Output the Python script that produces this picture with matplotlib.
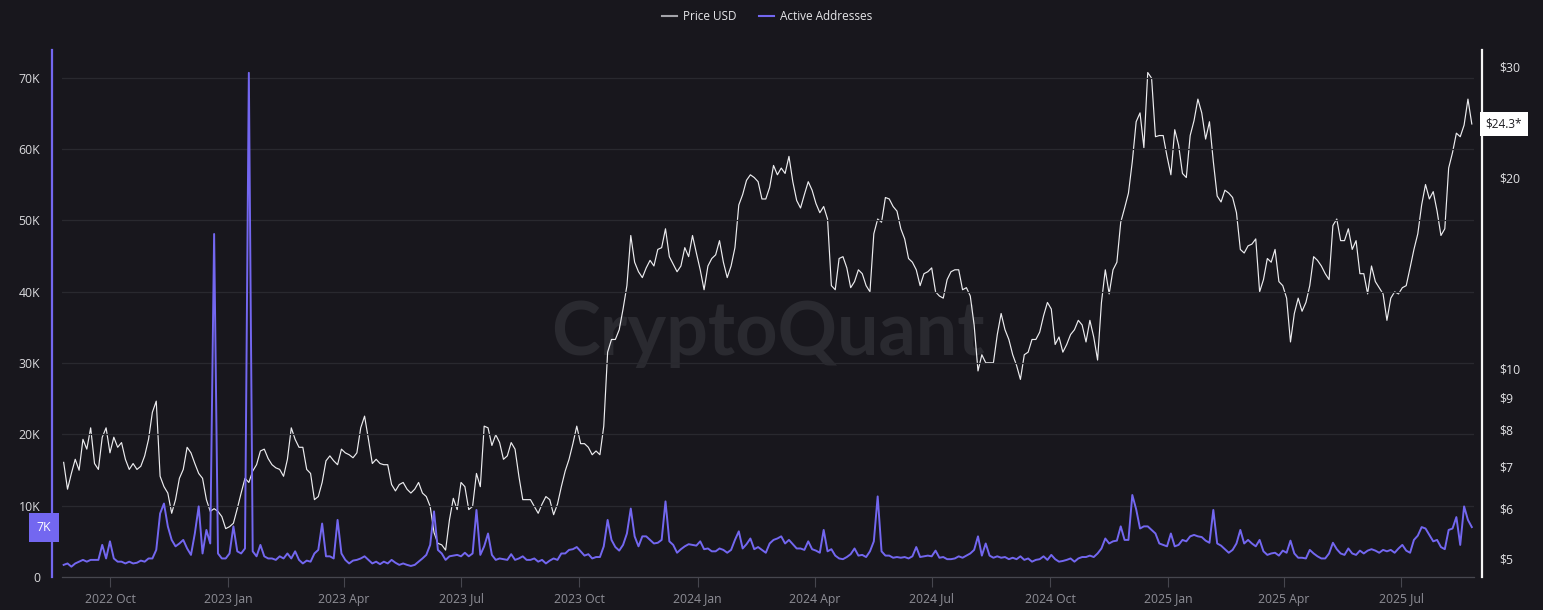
#!/usr/bin/env python3

import matplotlib
matplotlib.use('Agg')
from matplotlib import pyplot as pl
from matplotlib.lines import Line2D
from matplotlib.transforms import blended_transform_factory
import matplotlib.dates as mdates
import matplotlib.ticker as mticker
import pandas as pd

# one reading every 3 days
start = '2022-08-26'
step = '3D'

price_usd = [
    7.10, 6.44, 6.82, 7.18, 6.90, 7.72, 7.45, 8.05, 7.07, 6.92,
    7.78, 8.05, 7.35, 7.78, 7.50, 7.63, 7.18, 6.92, 7.07, 6.92,
    7.00, 7.27, 7.72, 8.52, 8.87, 6.75, 6.50, 6.35, 5.90, 6.20,
    6.70, 6.92, 7.50, 7.35, 7.07, 6.82, 6.70, 6.20, 5.94, 6.00,
    5.94, 5.83, 5.58, 5.62, 5.69, 6.00, 6.35, 6.70, 6.60, 6.88,
    7.04, 7.40, 7.45, 7.20, 7.04, 6.96, 6.92, 6.75, 7.18, 8.05,
    7.72,
    7.50, 7.50, 6.92, 6.82, 6.20, 6.27, 6.60, 7.14, 7.27, 7.14,
    7.04, 7.45, 7.35, 7.30, 7.22, 7.35, 8.05, 8.40, 7.72, 7.07,
    7.18, 7.07, 7.04, 7.04, 6.55, 6.40, 6.55, 6.60, 6.44, 6.35,
    6.44, 6.60, 6.35, 6.27, 6.05, 5.50, 5.29, 5.26, 5.16, 5.76,
    6.23, 5.98, 6.60, 6.50, 5.98, 6.05, 6.82, 6.50, 8.10, 8.05,
    7.55, 7.85, 7.63, 7.18, 7.27, 7.63, 7.45, 6.75, 6.20, 6.20,
    6.20, 6.05,
    5.90, 6.10, 6.27, 6.20, 5.87, 6.10, 6.50, 6.88, 7.18, 7.60,
    8.10, 7.60, 7.60, 7.50, 7.30, 7.40, 7.30, 8.10, 10.6, 11.1,
    11.1, 11.5, 12.4, 13.5, 16.2, 14.7, 14.2, 13.9, 14.4, 14.8,
    14.5, 15.4, 15.5, 16.6, 15.0, 14.6, 14.2, 14.5, 15.5, 15.0,
    16.2, 15.2, 14.3, 13.3, 14.5, 14.9, 15.1, 15.9, 14.7, 13.9,
    14.5, 15.5, 18.1, 18.8, 19.8, 20.2, 20.0, 19.7, 18.5, 18.5,
    19.3, 20.9, 20.2,
    20.7, 20.3, 21.6, 19.7, 18.4, 17.9, 18.8, 19.7, 19.1, 18.2,
    17.6, 18.0, 17.2, 13.5, 13.3, 14.9, 15.0, 14.4, 13.4, 13.7,
    14.3, 14.1, 13.5, 13.2, 16.3, 17.2, 17.0, 18.6, 18.5, 18.0,
    17.7, 16.6, 16.0, 14.9, 14.7, 14.3, 13.5, 14.1, 14.2, 14.4,
    13.2, 13.0, 12.9, 13.8, 14.2, 14.3, 14.3, 13.3, 13.4, 13.0,
    11.7, 9.9, 10.5, 10.2, 10.2, 10.2, 11.3, 12.2, 11.5, 11.1,
    10.5, 10.1, 9.6,
    10.5, 10.6, 11.1, 11.1, 11.4, 12.1, 12.7, 12.4, 10.9, 11.2,
    10.6, 10.9, 11.3, 11.5, 11.9, 11.7, 11.0, 11.9, 11.2, 10.3,
    12.7, 14.3, 13.1, 14.3, 14.7, 17.0, 17.9, 18.9, 21.2, 24.5,
    25.3, 22.3, 29.3, 28.7, 23.2, 23.3, 23.3, 21.6, 20.2, 23.8,
    22.5, 20.3, 20.0, 23.3, 24.6, 26.6, 25.3, 23.0, 24.5, 21.2,
    18.7, 18.3, 19.1, 18.9, 18.6, 17.6, 15.4, 15.2, 15.6, 15.7,
    16.0, 13.2,
    13.8, 14.9, 14.7, 15.4, 13.7, 13.5, 12.9, 11.0, 12.2, 12.9,
    12.3, 12.7, 13.5, 15.0, 14.8, 14.5, 14.1, 13.8, 16.8, 17.2,
    15.9, 15.9, 16.6, 15.4, 15.9, 14.1, 14.1, 13.1, 14.5, 13.7,
    13.4, 13.1, 11.9, 12.9, 13.2, 13.1, 13.4, 13.5, 14.4, 15.4,
    16.3, 18.1, 19.5, 18.5, 19.0, 17.7, 16.2, 16.6, 20.7, 21.9,
    23.5, 23.2, 24.2, 26.6, 24.3,
]

active_addresses_k = [
    1.7, 1.9, 1.45, 1.9, 2.15, 2.4, 2.15, 2.4, 2.4, 2.4,
    4.5, 2.6, 5.0, 2.6, 2.15, 2.15, 1.9, 2.15, 1.9, 2.0,
    2.3, 2.15, 2.6, 2.6, 3.8, 8.9, 10.3, 7.1, 5.2, 4.3,
    4.7, 5.2, 4.0, 3.1, 6.1, 9.9, 3.3, 6.6, 4.7, 48.1,
    3.3, 2.6, 2.6, 3.3, 7.1, 3.6, 3.3, 4.0, 70.7, 3.6,
    2.9, 4.5, 2.9, 2.6, 2.6, 2.4, 2.9, 2.6, 3.3, 2.6,
    3.6,
    2.4, 1.9, 2.3, 2.15, 3.3, 3.8, 7.5, 2.9, 2.9, 2.6,
    8.0, 3.3, 2.4, 1.9, 2.3, 2.4, 2.6, 2.9, 2.4, 1.9,
    2.15, 1.8, 2.15, 1.9, 2.4, 2.0, 1.7, 1.9, 1.7, 1.55,
    1.7, 2.15, 2.6, 3.1, 4.5, 9.2, 3.8, 3.3, 2.4, 2.9,
    3.0, 3.1, 2.9, 3.4, 2.9, 3.3, 9.4, 3.1, 4.3, 6.1,
    3.1, 2.4, 2.6, 2.5, 2.4, 3.2, 2.4, 2.6, 2.9, 2.4,
    2.4, 2.6,
    2.15, 2.4, 1.9, 2.3, 2.6, 2.4, 3.3, 3.3, 3.8, 3.9,
    4.2, 3.6, 3.0, 3.2, 2.6, 2.8, 2.8, 4.3, 8.0, 5.2,
    4.2, 3.7, 4.5, 6.1, 9.6, 5.7, 4.3, 5.7, 5.7, 5.2,
    4.7, 4.8, 5.2, 10.6, 5.0, 4.5, 3.4, 3.9, 4.3, 4.6,
    4.5, 4.4, 5.0, 3.9, 4.0, 3.6, 3.6, 4.0, 3.8, 3.4,
    3.8, 5.2, 6.4, 4.0, 4.6, 5.4, 3.9, 4.2, 3.8, 3.4,
    4.7, 5.2, 5.4,
    5.7, 4.7, 5.2, 4.6, 4.0, 4.0, 3.8, 5.0, 3.9, 3.7,
    3.4, 6.6, 3.6, 3.9, 3.0, 2.6, 2.5, 2.8, 3.2, 4.0,
    3.0, 3.1, 2.8, 3.6, 5.0, 11.3, 3.6, 3.0, 3.0, 2.7,
    2.8, 2.7, 2.8, 2.6, 2.9, 4.2, 2.8, 2.9, 3.0, 2.9,
    3.7, 2.7, 2.8, 2.5, 2.5, 2.6, 2.9, 2.7, 3.0, 3.3,
    3.8, 5.7, 3.0, 4.7, 3.0, 2.7, 2.9, 2.7, 2.8, 2.5,
    2.7, 2.5, 2.9,
    2.4, 2.6, 2.15, 2.4, 2.5, 2.9, 2.4, 3.1, 2.5, 2.15,
    2.25, 2.4, 2.6, 2.15, 2.6, 2.8, 2.8, 3.0, 2.8, 3.3,
    4.0, 5.4, 4.7, 5.0, 5.1, 7.1, 5.2, 5.2, 11.5, 9.5,
    6.8, 7.1, 7.1, 6.6, 6.1, 4.7, 4.5, 4.3, 6.1, 4.3,
    4.5, 5.2, 5.0, 5.7, 5.9, 5.7, 5.6, 5.1, 4.8, 9.4,
    4.7, 4.4, 3.9, 3.4, 3.8, 4.7, 6.6, 4.7, 5.2, 4.7,
    4.3, 5.2,
    3.6, 3.1, 3.3, 3.4, 3.0, 3.7, 3.4, 5.1, 3.3, 2.7,
    2.7, 2.6, 3.8, 3.3, 2.9, 2.6, 2.6, 3.3, 4.8, 3.9,
    3.3, 3.1, 4.0, 3.3, 3.1, 3.7, 3.3, 3.7, 3.9, 3.7,
    3.4, 3.8, 3.6, 3.8, 3.4, 4.0, 4.5, 3.7, 3.4, 5.2,
    5.8, 7.0, 6.8, 5.9, 5.0, 5.2, 4.2, 3.9, 6.6, 6.8,
    8.4, 4.5, 9.9, 8.0, 7.0,
]

aa_ticks = [0, 10000, 20000, 30000, 40000, 50000, 60000, 70000]
aa_tick_labels = ['0', '10K', '20K', '30K', '40K', '50K', '60K', '70K']
price_ticks = [5, 6, 7, 8, 9, 10, 20, 30]
price_tick_labels = ['$5', '$6', '$7', '$8', '$9', '$10', '$20', '$30']
last_aa_label = '7K'
last_price_label = '$24.3*'

bg = '#18171d'
purple = '#7367f0'
white = '#ececef'

pl.rcParams['font.family'] = ['Open Sans', 'DejaVu Sans']

dates_price = pd.date_range(start, periods=len(price_usd), freq=step)
dates_aa = pd.date_range(start, periods=len(active_addresses_k), freq=step)
active_addresses = [v * 1000 for v in active_addresses_k]

W, H = 1543, 610
fig = pl.figure(figsize=(W / 100, H / 100), dpi=100, facecolor=bg)
ax = fig.add_axes([62 / W, 1 - 577 / H, (1474 - 62) / W, (577 - 50) / H])
ax2 = ax.twinx()
ax.set_zorder(ax2.get_zorder() + 1)
ax.patch.set_visible(False)
ax2.patch.set_visible(False)

# watermark behind everything
ax2.text(768 / W, 1 - 355 / H, 'CryptoQuant', transform=fig.transFigure,
         fontsize=53, fontweight='bold', color='#2a2a30', ha='center',
         va='baseline', family=['Lato', 'DejaVu Sans'], zorder=0)

ax2.plot(dates_price, price_usd, color=white, lw=0.85, zorder=2)
ax.plot(dates_aa, active_addresses, color=purple, lw=1.4, zorder=2)

ax.set_xlim(pd.Timestamp('2022-08-24 17:00'), pd.Timestamp('2025-08-26 17:00'))

# left axis: active addresses
ax.set_ylim(0, 73900)
ax.set_yticks(aa_ticks)
ax.set_yticklabels(aa_tick_labels)
ax.yaxis.grid(True, color='#29292f', lw=0.9)
ax.set_axisbelow(True)
ax.tick_params(axis='y', length=0, pad=8.6, labelsize=8.8, labelcolor='#dadadd')

ax.xaxis.set_major_locator(mdates.MonthLocator(bymonth=[1, 4, 7, 10]))
ax.xaxis.set_major_formatter(mdates.DateFormatter('%Y %b'))
ax.tick_params(axis='x', length=7.2, width=0.8, color='#46464e', pad=4,
               labelsize=8.8, labelcolor='#8e8e96')

for side in ['top', 'right']:
    ax.spines[side].set_visible(False)
ax.spines['bottom'].set_color('#46464e')
ax.spines['bottom'].set_linewidth(0.9)
ax.spines['left'].set_position(('outward', 7))
ax.spines['left'].set_color(purple)
ax.spines['left'].set_linewidth(1.6)

# right axis: price, log scale
ax2.set_yscale('log')
ax2.set_ylim(4.68, 31.8)
ax2.set_yticks(price_ticks)
ax2.set_yticklabels(price_tick_labels)
ax2.yaxis.set_minor_locator(mticker.NullLocator())
ax2.tick_params(axis='y', length=0, pad=12, labelsize=8.8, labelcolor='#e2e2e5')
for side in ['top', 'left', 'bottom']:
    ax2.spines[side].set_visible(False)
ax2.spines['right'].set_position(('outward', 6))
ax2.spines['right'].set_color('#f4f4f4')
ax2.spines['right'].set_linewidth(1.6)

# last value badges
trans_l = blended_transform_factory(fig.transFigure, ax.transData)
ax.text(44 / W, active_addresses[-1], last_aa_label, transform=trans_l,
        ha='center', va='center', color='white', fontsize=8.8, zorder=6,
        bbox=dict(boxstyle='square,pad=0.65', fc=purple, ec='none'))

trans_r = blended_transform_factory(fig.transFigure, ax2.transData)
ax2.text(1504 / W, price_usd[-1], last_price_label, transform=trans_r,
         ha='center', va='center', color='#1c1c20', fontsize=8.5, zorder=6,
         bbox=dict(boxstyle='square,pad=0.5', fc='white', ec='none'))

handles = [Line2D([], [], color='#a4a4aa', lw=1.5),
           Line2D([], [], color=purple, lw=1.5)]
fig.legend(handles, ['Price USD', 'Active Addresses'], loc='center',
           bbox_to_anchor=(767 / W, 1 - 17 / H), ncol=2, frameon=False,
           fontsize=8.5, labelcolor='#e6e6e9', handlelength=1.3,
           handletextpad=0.5, columnspacing=1.9)

fig.savefig('out.png', dpi=100, facecolor=bg)
